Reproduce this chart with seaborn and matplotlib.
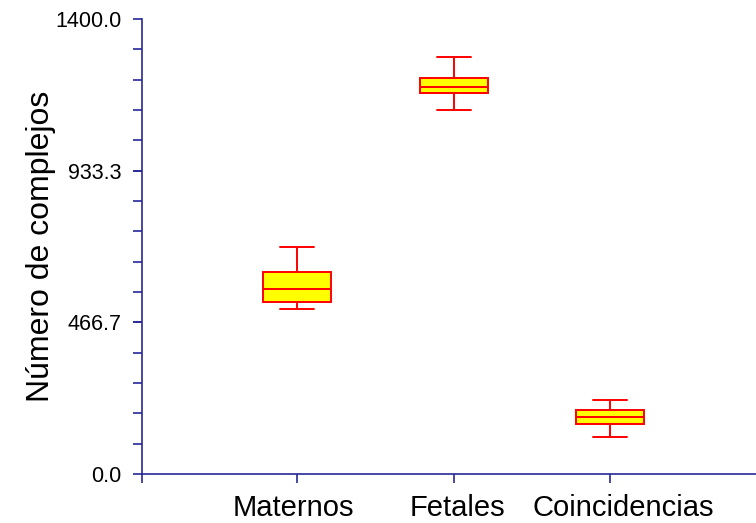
import numpy as np
import pandas as pd
import matplotlib
matplotlib.use("Agg")
import matplotlib.pyplot as plt
import matplotlib.transforms as mtransforms
import seaborn as sns

# Data (five-number summary per group)
categories = ["Maternos", "Fetales", "Coincidencias"]
mins = [508, 1119, 113]
q1s = [528, 1171, 155]
medians = [570, 1190, 176]
q3s = [622, 1218, 198]
maxs = [699, 1282, 228]

ytick_vals = [0.0, 466.7, 933.3, 1400.0]
ytick_labels = ["0.0", "466.7", "933.3", "1400.0"]

rows = []
for c, a, b, m, d, e in zip(categories, mins, q1s, medians, q3s, maxs):
    for v in (a, b, m, d, e):
        rows.append({"grupo": c, "valor": v})
df = pd.DataFrame(rows)

sns.set_style("ticks")
plt.rcParams["font.family"] = ["Liberation Sans", "DejaVu Sans"]

AXC = "#28289a"

fig = plt.figure(figsize=(7.56, 5.23), dpi=100)
ax = fig.add_axes([142 / 756, 1 - 474 / 523, (756 - 142) / 756, (474 - 19) / 523])

sns.boxplot(data=df, x="grupo", y="valor", order=categories, ax=ax,
            whis=(0, 100), width=0.435, color="#ffff00", linecolor="#ff0000",
            linewidth=1.4, saturation=1, showfliers=False)

ax.set_xlim(-0.99, 2.93)
ax.set_ylim(0, 1400)

ax.set_xticks([-0.99, 0, 1, 2])
ax.set_xticklabels([""] + categories)
ax.set_yticks(ytick_vals)
ax.set_yticklabels(ytick_labels)
ax.set_yticks(np.linspace(0, 1400, 16), minor=True)
ax.set_xlabel("")
ax.set_ylabel("Número de complejos", fontsize=23, color="black", labelpad=0)

for s in ("top", "right"):
    ax.spines[s].set_visible(False)
for s in ("left", "bottom"):
    ax.spines[s].set_color(AXC)
    ax.spines[s].set_linewidth(1.2)

ax.tick_params(axis="y", which="both", direction="out", length=6.5, width=1.2,
               color=AXC, labelcolor="black", labelsize=15.5, pad=8)
ax.tick_params(axis="x", which="both", direction="out", length=6.5, width=1.2,
               color=AXC, labelcolor="black", labelsize=21, pad=8)
ax.grid(False)

# small horizontal nudges so the category labels sit as in the reference
shifts_px = [0, -4, 4, 13]
for lab, dx in zip(ax.get_xticklabels(), shifts_px):
    lab.set_transform(lab.get_transform() +
                      mtransforms.ScaledTranslation(dx / 100, 0, fig.dpi_scale_trans))

fig.savefig("out.png", dpi=100)
